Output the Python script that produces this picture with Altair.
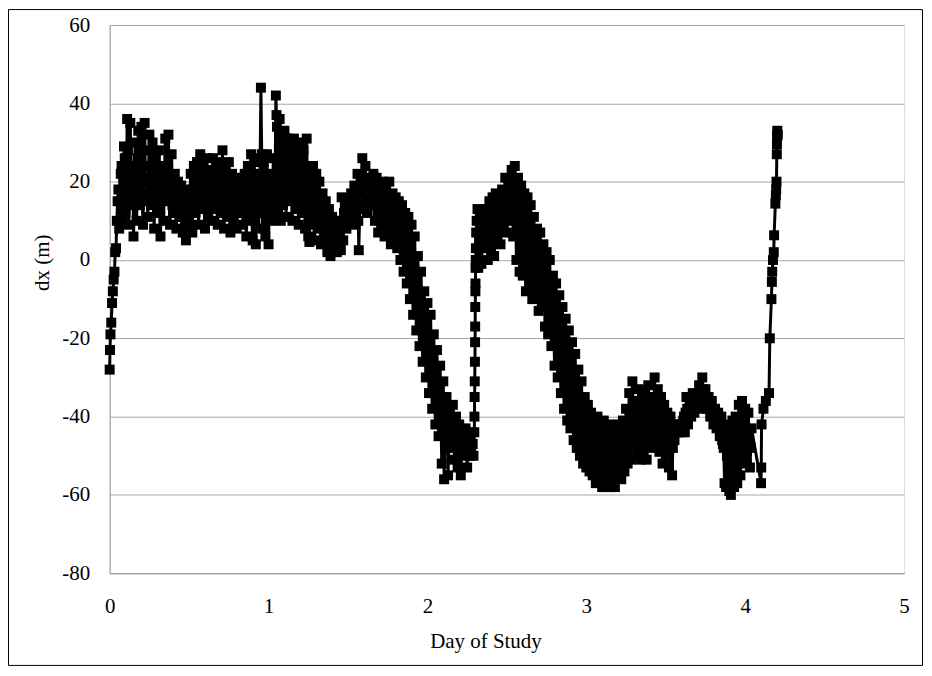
import altair as alt
import pandas as pd

# --- data (day of study, dx in metres) ---
seg_a_day = [0.000, 0.002, 0.005, 0.010, 0.015, 0.020, 0.025, 0.030, 0.035]
seg_a_dx = [-28, -23, -19, -16, -11, -8, -5, -3, 2]

seg_b_day = [0.04, 0.05, 0.06, 0.07, 0.08, 0.09, 0.10, 0.11, 0.12, 0.13,
             0.14, 0.15, 0.16, 0.17, 0.18, 0.19, 0.20, 0.21, 0.22, 0.23,
             0.24, 0.25, 0.26, 0.27, 0.28, 0.29, 0.30, 0.31, 0.32, 0.33,
             0.34, 0.35, 0.36, 0.37, 0.38, 0.39, 0.40, 0.41, 0.42, 0.43,
             0.44, 0.45, 0.46, 0.47, 0.48, 0.49, 0.50, 0.51, 0.52, 0.53,
             0.54, 0.55, 0.56, 0.57, 0.58, 0.59, 0.60, 0.61, 0.62, 0.63,
             0.64, 0.65, 0.66, 0.67, 0.68, 0.69, 0.70, 0.71, 0.72, 0.73,
             0.74, 0.75, 0.76, 0.77, 0.78, 0.79, 0.80, 0.81, 0.82, 0.83,
             0.84, 0.85, 0.86, 0.87, 0.88, 0.89, 0.90, 0.91, 0.92, 0.93,
             0.94, 0.947, 0.952, 0.957, 0.96, 0.97, 0.98, 0.99, 1.00, 1.01,
             1.02, 1.03, 1.04, 1.046, 1.05, 1.053, 1.06, 1.07, 1.077, 1.08,
             1.09, 1.10, 1.11, 1.12, 1.13, 1.14, 1.15, 1.16, 1.17, 1.18,
             1.19, 1.20, 1.21, 1.22, 1.23, 1.24, 1.25, 1.257, 1.26, 1.27,
             1.28, 1.29, 1.30, 1.31, 1.32, 1.33, 1.34, 1.35, 1.36, 1.37,
             1.38, 1.39, 1.40, 1.41, 1.42, 1.43, 1.44, 1.455]
seg_b_dx = [3, 15, 8, 22, 10, 29, 12, 36, 9, 35,
            18, 6, 30, 10, 33, 14, 34, 9, 35, 20,
            11, 32, 14, 30, 8, 26, 12, 28, 6, 24,
            10, 31, 15, 32, 9, 27, 12, 22, 8, 20,
            11, 19, 7, 17, 5, 18, 9, 22, 7, 24,
            12, 25, 9, 27, 14, 24, 8, 26, 11, 23,
            10, 26, 13, 25, 9, 24, 12, 28, 8, 23,
            11, 25, 7, 22, 10, 21, 8, 19, 12, 20,
            9, 22, 6, 24, 10, 27, 5, 25, 4, 22,
            12, 26, 44, 27, 8, 25, 6, 27, 4, 22,
            10, 26, 14, 42, 37, 34, 12, 36, 10, 32,
            14, 33, 11, 31, 15, 30, 10, 31, 13, 29,
            9, 30, 12, 28, 8, 31, 6, 4.6, 24, 9,
            24, 5, 22, 8, 20, 4, 17, 6, 15, 2,
            13, 1, 11, 3, 10, 2, 8, 2.5]

# in-band points between the swings of segment B
seg_b_mid_day = [0.045, 0.055, 0.065, 0.075, 0.085, 0.095, 0.105, 0.115, 0.125, 0.135,
                 0.145, 0.155, 0.165, 0.175, 0.185, 0.195, 0.205, 0.215, 0.225, 0.235,
                 0.245, 0.255, 0.265, 0.275, 0.285, 0.295, 0.305, 0.315, 0.325, 0.335,
                 0.345, 0.355, 0.365, 0.375, 0.385, 0.395, 0.405, 0.415, 0.425, 0.435,
                 0.445, 0.455, 0.465, 0.475, 0.485, 0.495, 0.505, 0.515, 0.525, 0.535,
                 0.545, 0.555, 0.565, 0.575, 0.585, 0.595, 0.605, 0.615, 0.625, 0.635,
                 0.645, 0.655, 0.665, 0.675, 0.685, 0.695, 0.705, 0.715, 0.725, 0.735,
                 0.745, 0.755, 0.765, 0.775, 0.785, 0.795, 0.805, 0.815, 0.825, 0.835,
                 0.845, 0.855, 0.865, 0.875, 0.885, 0.895, 0.905, 0.915, 0.925, 0.935,
                 0.965, 0.975, 0.985, 0.995, 1.005, 1.015, 1.025, 1.035,
                 1.065, 1.085, 1.095, 1.105, 1.115, 1.125, 1.135, 1.145, 1.155, 1.165,
                 1.175, 1.185, 1.195, 1.205, 1.215, 1.225, 1.235, 1.245,
                 1.265, 1.275, 1.285, 1.295, 1.305, 1.315, 1.325, 1.335, 1.345, 1.355,
                 1.365, 1.375, 1.385, 1.395, 1.405, 1.415, 1.425, 1.435, 1.445]
seg_b_mid_dx = [10, 18, 15, 24, 20, 26, 17, 28, 22, 16,
                24, 14, 22, 26, 18, 25, 15, 28, 21, 17,
                24, 19, 22, 15, 20, 17, 22, 13, 18, 16,
                22, 19, 24, 16, 20, 14, 17, 12, 15, 13,
                14, 11, 13, 10, 14, 12, 17, 13, 18, 15,
                19, 14, 20, 17, 18, 13, 20, 15, 17, 14,
                19, 16, 18, 14, 17, 15, 20, 13, 17, 15,
                18, 12, 16, 14, 15, 12, 15, 13, 14, 13,
                16, 12, 17, 14, 18, 11, 17, 10, 15, 16,
                16, 12, 17, 11, 15, 13, 17, 19,
                24, 22, 20, 24, 19, 23, 20, 22, 18, 21,
                17, 20, 16, 21, 17, 19, 15, 17,
                14, 16, 13, 15, 12, 14, 11, 12, 10, 9,
                8, 7, 6, 6, 5, 6, 5, 5, 4]

seg_c_day = [1.46, 1.47, 1.48, 1.49, 1.50, 1.51, 1.52, 1.53, 1.54, 1.55,
             1.56, 1.565, 1.568, 1.575, 1.58, 1.59, 1.60, 1.61, 1.62, 1.63,
             1.64, 1.65, 1.66, 1.67, 1.68, 1.69, 1.70, 1.71, 1.72, 1.73,
             1.74, 1.75, 1.76, 1.77, 1.78, 1.79, 1.80, 1.81, 1.82, 1.83,
             1.84, 1.85, 1.86, 1.87, 1.88, 1.89, 1.90, 1.91, 1.92, 1.93]
seg_c_dx = [16, 5, 14, 8, 15, 11, 17, 9, 19, 11,
            22, 10, 2.5, 14, 20, 26, 13, 24, 12, 21,
            14, 20, 22, 10, 21, 7, 19, 9, 20, 6,
            18, 8, 20, 4, 17, 5, 16, 3, 15, 0,
            14, -3, 12, -6, 11, -10, 9, -14, 6, -18]

seg_c_mid_day = [1.465, 1.475, 1.485, 1.495, 1.505, 1.515, 1.525, 1.535, 1.545, 1.555,
                 1.585, 1.595, 1.605, 1.615, 1.625, 1.635, 1.645, 1.655, 1.665, 1.675,
                 1.685, 1.695, 1.705, 1.715, 1.725, 1.735, 1.745, 1.755, 1.765, 1.775,
                 1.785, 1.795, 1.805, 1.815, 1.825, 1.835, 1.845, 1.855, 1.865, 1.875,
                 1.885, 1.895, 1.905, 1.915, 1.925]
seg_c_mid_dx = [10, 12, 9, 12, 13, 14, 12, 15, 14, 17,
                17, 19, 18, 16, 17, 18, 16, 17, 15, 14,
                12, 13, 12, 14, 11, 13, 12, 10, 12, 9,
                11, 8, 9, 6, 8, 4, 5, 1, 3, -2,
                0, -5, -4, -9, -8]

seg_d_day = [1.94, 1.95, 1.96, 1.97, 1.98, 1.99, 2.00, 2.01, 2.02, 2.03,
             2.04, 2.05, 2.06, 2.07, 2.08, 2.09, 2.10, 2.105, 2.11, 2.12,
             2.13, 2.14, 2.15, 2.16, 2.17, 2.18, 2.19, 2.20, 2.21, 2.22,
             2.23, 2.24, 2.25, 2.26, 2.27, 2.28, 2.29]
seg_d_dx = [1, -22, -3, -26, -8, -30, -11, -34, -14, -38,
            -19, -42, -23, -45, -27, -52, -31, -56, -44, -35,
            -55, -39, -48, -37, -51, -40, -53, -42, -55, -44,
            -50, -43, -53, -45, -50, -44, -50]

seg_d_mid_day = [1.945, 1.955, 1.965, 1.975, 1.985, 1.995, 2.005, 2.015, 2.025, 2.035,
                 2.045, 2.055, 2.065, 2.075, 2.085, 2.095, 2.115, 2.125, 2.135, 2.145,
                 2.155, 2.165, 2.175, 2.185, 2.195, 2.205, 2.215, 2.225, 2.235, 2.245,
                 2.255, 2.265, 2.275, 2.285]
seg_d_mid_dx = [-10, -12, -15, -16, -19, -20, -23, -24, -27, -28,
                -31, -33, -35, -36, -40, -42, -48, -45, -46, -44,
                -43, -45, -46, -47, -48, -47, -49, -48, -47, -48,
                -49, -47, -48, -47]

seg_e_day = [2.295, 2.296, 2.297, 2.298, 2.299, 2.300, 2.3005, 2.301, 2.302, 2.3025,
             2.303, 2.304, 2.305, 2.307, 2.310, 2.315]
seg_e_dx = [-44, -40, -35, -31, -26, -21, -17, -12, -8, -6,
            -2, 0, 3, 7, 10, 13]

seg_f_day = [2.32, 2.33, 2.34, 2.35, 2.36, 2.37, 2.38, 2.39, 2.40, 2.41,
             2.42, 2.43, 2.44, 2.45, 2.46, 2.47, 2.48, 2.49, 2.50, 2.51,
             2.52, 2.53, 2.54, 2.55, 2.56, 2.57, 2.58, 2.59, 2.60, 2.61,
             2.62, 2.63, 2.64, 2.65, 2.66, 2.67, 2.68, 2.69, 2.70, 2.71,
             2.72, 2.73, 2.74, 2.75, 2.76, 2.77, 2.78, 2.79, 2.80, 2.81,
             2.82, 2.83, 2.84, 2.85, 2.86, 2.87, 2.88, 2.89, 2.90, 2.91,
             2.92, 2.93, 2.94, 2.95, 2.96, 2.97, 2.98, 2.99]
seg_f_dx = [-2, 12, -1, 11, 3, 13, 0, 15, 2, 16,
            1, 17, 5, 16, 4, 18, 8, 21, 7, 20,
            10, 23, 6, 24, 0, 21, -3, 19, -4, 17,
            -8, 16, -6, 14, -10, 11, -9, 8, -13, 7,
            -12, 4, -17, 2, -19, 0, -22, -4, -27, -6,
            -30, -9, -34, -12, -38, -15, -41, -18, -43, -21,
            -46, -24, -48, -28, -50, -31, -52, -35]

seg_f_mid_day = [2.325, 2.335, 2.345, 2.355, 2.365, 2.375, 2.385, 2.395, 2.405, 2.415,
                 2.425, 2.435, 2.445, 2.455, 2.465, 2.475, 2.485, 2.495, 2.505, 2.515,
                 2.525, 2.535, 2.545, 2.555, 2.565, 2.575, 2.585, 2.595, 2.605, 2.615,
                 2.625, 2.635, 2.645, 2.655, 2.665, 2.675, 2.685, 2.695, 2.705, 2.715,
                 2.725, 2.735, 2.745, 2.755, 2.765, 2.775, 2.785, 2.795, 2.805, 2.815,
                 2.825, 2.835, 2.845, 2.855, 2.865, 2.875, 2.885, 2.895, 2.905, 2.915,
                 2.925, 2.935, 2.945, 2.955, 2.965, 2.975, 2.985, 2.995]
seg_f_mid_dx = [5, 6, 4, 7, 6, 8, 7, 9, 8, 10,
                9, 11, 10, 12, 11, 14, 13, 15, 14, 16,
                15, 17, 14, 15, 10, 12, 8, 10, 6, 8,
                5, 7, 3, 4, 1, 2, -2, -1, -4, -3,
                -6, -5, -9, -8, -11, -12, -14, -16, -18, -19,
                -21, -22, -25, -26, -28, -30, -31, -33, -34, -36,
                -37, -38, -40, -41, -43, -44, -46, -47]

seg_g_day = [3.00, 3.01, 3.02, 3.03, 3.04, 3.05, 3.06, 3.07, 3.08, 3.09,
             3.10, 3.11, 3.12, 3.13, 3.14, 3.15, 3.16, 3.17, 3.18, 3.19,
             3.20, 3.21, 3.22, 3.23, 3.24, 3.25, 3.26, 3.27, 3.28, 3.29,
             3.30, 3.31, 3.32, 3.33, 3.34, 3.35, 3.36, 3.37, 3.38, 3.39,
             3.40, 3.41, 3.42, 3.43, 3.44, 3.45, 3.46, 3.47, 3.48, 3.49,
             3.50, 3.51, 3.52, 3.53, 3.54, 3.55, 3.56, 3.57, 3.58, 3.59,
             3.60, 3.61, 3.62, 3.63, 3.64, 3.65, 3.66, 3.67, 3.68, 3.69,
             3.70, 3.71, 3.72, 3.73, 3.74, 3.75, 3.76, 3.77, 3.78, 3.79,
             3.80, 3.81, 3.82, 3.83, 3.84, 3.85, 3.86, 3.87, 3.875, 3.88,
             3.89, 3.90, 3.905, 3.91, 3.92, 3.93, 3.94, 3.95, 3.96, 3.97,
             3.98, 3.99, 4.00, 4.01, 4.02, 4.03, 4.04]
seg_g_dx = [-53, -37, -54, -39, -55, -41, -57, -40, -56, -42,
            -58, -41, -57, -43, -58, -42, -56, -44, -58, -43,
            -55, -42, -56, -41, -54, -38, -52, -34, -51, -31,
            -48, -36, -50, -33, -51, -35, -49, -34, -51, -32,
            -47, -35, -48, -30, -46, -33, -49, -35, -52, -37,
            -50, -39, -53, -40, -55, -43, -44, -42, -44, -43,
            -44, -41, -44, -35, -42, -35, -40, -34, -39, -35,
            -37, -32, -38, -30, -37, -33, -38, -35, -40, -36,
            -42, -38, -43, -39, -45, -40, -47, -57, -42, -58,
            -44, -59, -43, -60, -41, -58, -40, -57, -37, -55,
            -36, -50, -38, -52, -39, -53, -43]

seg_g_mid_day = [3.005, 3.015, 3.025, 3.035, 3.045, 3.055, 3.065, 3.075, 3.085, 3.095,
                 3.105, 3.115, 3.125, 3.135, 3.145, 3.155, 3.165, 3.175, 3.185, 3.195,
                 3.205, 3.215, 3.225, 3.235, 3.245, 3.255, 3.265, 3.275, 3.285, 3.295,
                 3.305, 3.315, 3.325, 3.335, 3.345, 3.355, 3.365, 3.375, 3.385, 3.395,
                 3.405, 3.415, 3.425, 3.435, 3.445, 3.455, 3.465, 3.475, 3.485, 3.495,
                 3.505, 3.515, 3.525, 3.535, 3.545, 3.555, 3.565, 3.575, 3.585, 3.595,
                 3.605, 3.615, 3.625, 3.635, 3.645, 3.655, 3.665, 3.675, 3.685, 3.695,
                 3.705, 3.715, 3.725, 3.735, 3.745, 3.755, 3.765, 3.775, 3.785, 3.795,
                 3.805, 3.815, 3.825, 3.835, 3.845, 3.855, 3.865, 3.885, 3.895,
                 3.915, 3.925, 3.935, 3.945, 3.955, 3.965, 3.975, 3.985, 3.995,
                 4.005, 4.015, 4.025, 4.035]
seg_g_mid_dx = [-46, -47, -48, -47, -49, -48, -50, -49, -51, -48,
                -50, -49, -51, -48, -50, -49, -52, -48, -50, -49,
                -48, -50, -47, -49, -46, -45, -43, -44, -41, -42,
                -43, -41, -44, -42, -43, -41, -44, -42, -43, -40,
                -41, -39, -42, -40, -43, -41, -44, -42, -45, -43,
                -44, -46, -45, -47, -48, -46, -43, -43, -43, -42,
                -42, -40, -39, -38, -38, -37, -37, -36, -37, -36,
                -34, -35, -34, -33, -35, -35, -36, -37, -38, -38,
                -40, -40, -41, -42, -44, -46, -48, -50, -52,
                -50, -49, -47, -46, -44, -43, -42, -44, -45,
                -46, -45, -47, -48]

seg_h_day = [4.100, 4.101, 4.103, 4.115, 4.130, 4.150, 4.155, 4.165, 4.168, 4.170,
             4.175, 4.180, 4.182, 4.190, 4.193, 4.195, 4.197, 4.199, 4.200, 4.201,
             4.202, 4.205]
seg_h_dx = [-57, -53, -42, -38, -36, -34, -20, -10, -5.6, -3,
            0, 2, 6.3, 14.4, 16.5, 18, 20, 27, 29.6, 31.7,
            33, 32]

x_ticks = [0, 1, 2, 3, 4, 5]
y_ticks = [-80, -60, -40, -20, 0, 20, 40, 60]

day = (seg_a_day + seg_b_day + seg_b_mid_day + seg_c_day + seg_c_mid_day
       + seg_d_day + seg_d_mid_day + seg_e_day + seg_f_day + seg_f_mid_day
       + seg_g_day + seg_g_mid_day + seg_h_day)
dx = (seg_a_dx + seg_b_dx + seg_b_mid_dx + seg_c_dx + seg_c_mid_dx
      + seg_d_dx + seg_d_mid_dx + seg_e_dx + seg_f_dx + seg_f_mid_dx
      + seg_g_dx + seg_g_mid_dx + seg_h_dx)

df = pd.DataFrame({"day": day, "dx": dx}).sort_values("day", kind="stable").reset_index(drop=True)
df["i"] = range(len(df))

FONT = "Liberation Serif"

series = alt.Chart(df).mark_line(
    color="black",
    strokeWidth=3,
    strokeJoin="round",
    point=alt.OverlayMarkDef(shape="square", size=100, filled=True, color="black", opacity=1),
).encode(
    x=alt.X(
        "day:Q",
        scale=alt.Scale(domain=[0, 5], nice=False, zero=False),
        axis=alt.Axis(
            values=x_ticks, grid=False, tickSize=0, domainColor="#9a9a9a",
            labelFont=FONT, labelFontSize=21, labelColor="black",
            labelPadding=33, labelBaseline="middle", labelFlush=False,
            labelExpr="'' + datum.value",
            title="Day of Study", titleFont=FONT, titleFontSize=21,
            titleFontWeight="normal", titleColor="black",
            titleX=377, titleY=69, titleBaseline="middle", titleAnchor="middle",
        ),
    ),
    y=alt.Y(
        "dx:Q",
        scale=alt.Scale(domain=[-80, 60], nice=False, zero=False),
        axis=alt.Axis(
            values=y_ticks, grid=True, gridColor="#a8a8a8", gridWidth=1,
            tickSize=0, domainColor="#9a9a9a",
            labelFont=FONT, labelFontSize=21, labelColor="black",
            labelPadding=20, labelFlush=False,
            labelExpr="'' + datum.value",
            title="dx (m)", titleFont=FONT, titleFontSize=21,
            titleFontWeight="normal", titleColor="black",
            titleX=-67, titleY=238, titleBaseline="middle", titleAnchor="middle",
            titleAngle=270,
        ),
    ),
    order=alt.Order("i:Q"),
)

frame = alt.Chart(pd.DataFrame({"k": [0]})).mark_rect(
    fillOpacity=0, stroke="black", strokeWidth=1
).encode(
    x=alt.value(-101.5), x2=alt.value(815.5),
    y=alt.value(-15.5), y2=alt.value(642.5),
)

chart = alt.layer(series, frame).properties(
    width=797,
    height=550,
    autosize=alt.AutoSizeParams(type="none"),
    padding={"left": 102, "top": 16, "right": 20, "bottom": 94},
).configure_view(stroke=None).configure(background="white")

chart.save("out.html", embed_options={"renderer": "svg", "actions": False})
